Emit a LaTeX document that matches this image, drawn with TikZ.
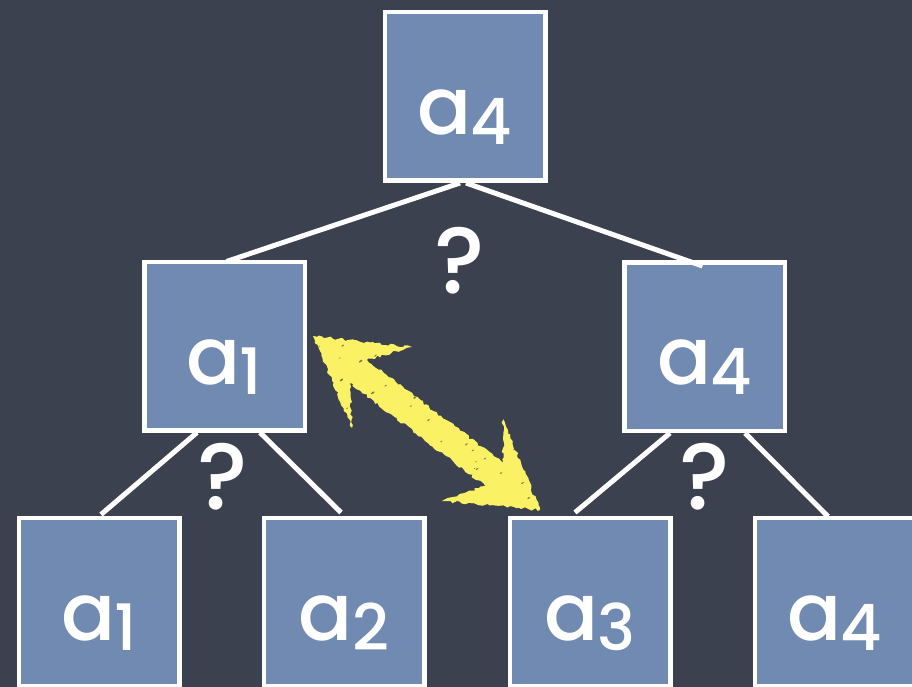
\documentclass[tikz,border=0pt]{standalone}
\usepackage{fontspec}
\setmainfont{Poppins}[BoldFont={* Medium}]
\usetikzlibrary{calc,decorations.pathmorphing}
\definecolor{board}{RGB}{60,65,80}
\definecolor{tile}{RGB}{112,138,178}
\definecolor{chalkyellow}{RGB}{250,242,100}
\tikzset{
  tilebox/.style={draw=white, line width=4.5pt, fill=tile, minimum width=160.5pt, minimum height=168.5pt, inner sep=0pt},
  lbl/.style={anchor=base, text=white, inner sep=0pt, font=\bfseries},
  link/.style={draw=white, line width=5pt},
  qmark/.style={text=white, font=\bfseries\fontsize{94}{94}\selectfont, inner sep=0pt},
}
\newcommand{\lab}[1]{{\fontsize{80}{80}\selectfont a}\kern-1pt\raisebox{-10pt}{\fontsize{64}{64}\selectfont #1}}
\begin{document}
\begin{tikzpicture}[x=1pt,y=-1pt]
\useasboundingbox (0,0) rectangle (912,687);
\clip (0,0) rectangle (912,687);
\fill[board] (0,0) rectangle (912,687);

% boxes
\node[tilebox] (top) at (465,96.5) {};
\node[tilebox] (ml) at (224.5,346) {};
\node[tilebox] (mr) at (704.5,346.5) {};
\node[tilebox] (b1) at (99,602) {};
\node[tilebox] (b2) at (344,602) {};
\node[tilebox] (b3) at (590,602) {};
\node[tilebox] (b4) at (835,602) {};

% labels
\node[lbl] (ltop) at ($(top.center)+(0,38)$) {\lab{4}};
\node[lbl] (lml) at ($(ml.center)+(0,38)$) {\lab{1}};
\node[lbl] (lmr) at ($(mr.center)+(0,38)$) {\lab{4}};
\node[lbl] (lb1) at ($(b1.center)+(0,38)$) {\lab{1}};
\node[lbl] (lb2) at ($(b2.center)+(0,38)$) {\lab{2}};
\node[lbl] (lb3) at ($(b3.center)+(0,38)$) {\lab{3}};
\node[lbl] (lb4) at ($(b4.center)+(0,38)$) {\lab{4}};

% connectors
\draw[link] ($(top.south)+(-5,0)$) -- ($(ml.north)+(2,2)$);
\draw[link] ($(top.south)+(1,0)$) -- ($(mr.north)+(-2,6)$);
\draw[link] ($(ml.south)+(-27.5,0)$) -- ($(b1.north)+(2,-1)$);
\draw[link] ($(ml.south)+(35.5,0)$) -- ($(b2.north)+(-3,-3)$);
\draw[link] ($(mr.south)+(-34.5,0)$) -- ($(b3.north)+(-15,-3)$);
\draw[link] ($(mr.south)+(40.5,0)$) -- ($(b4.north)+(-7,1)$);

% question marks
\node[qmark] (q1) at (460,261) {?};
\node[qmark] (q2) at (223,477) {?};
\node[qmark] (q3) at (705,477) {?};

% chalk double arrow
\coordinate (LT) at (313,336);
\coordinate (LWU) at (412,347);
\coordinate (LNU) at (367,360);
\coordinate (RNU) at (503,463);
\coordinate (RWU) at (503,419);
\coordinate (RT) at (540,510);
\coordinate (RWL) at (442,501);
\coordinate (RNL) at (485,486);
\coordinate (LNL) at (350,383);
\coordinate (LWL) at (352,428);
\fill[chalkyellow, decorate, decoration={random steps, segment length=3pt, amplitude=1.4pt}]
  (LT) -- (LWU) -- (LNU) -- (RNU) -- (RWU) -- (RT) -- (RWL) -- (RNL) -- (LNL) -- (LWL) -- cycle;
\begin{scope}
  \clip (LT) -- (LWU) -- (LNU) -- (RNU) -- (RWU) -- (RT) -- (RWL) -- (RNL) -- (LNL) -- (LWL) -- cycle;
  \pgfmathsetseed{7}
  \foreach \i in {1,...,90} {
    \pgfmathsetmacro{\px}{315+223*rnd}
    \pgfmathsetmacro{\py}{338+170*rnd}
    \pgfmathsetmacro{\rr}{0.5+0.9*rnd}
    \fill[board, opacity=0.65, rotate around={35:(\px,\py)}] (\px,\py) ellipse ({\rr*1.6} and {\rr*0.7});
  }
\end{scope}
\end{tikzpicture}
\end{document}
